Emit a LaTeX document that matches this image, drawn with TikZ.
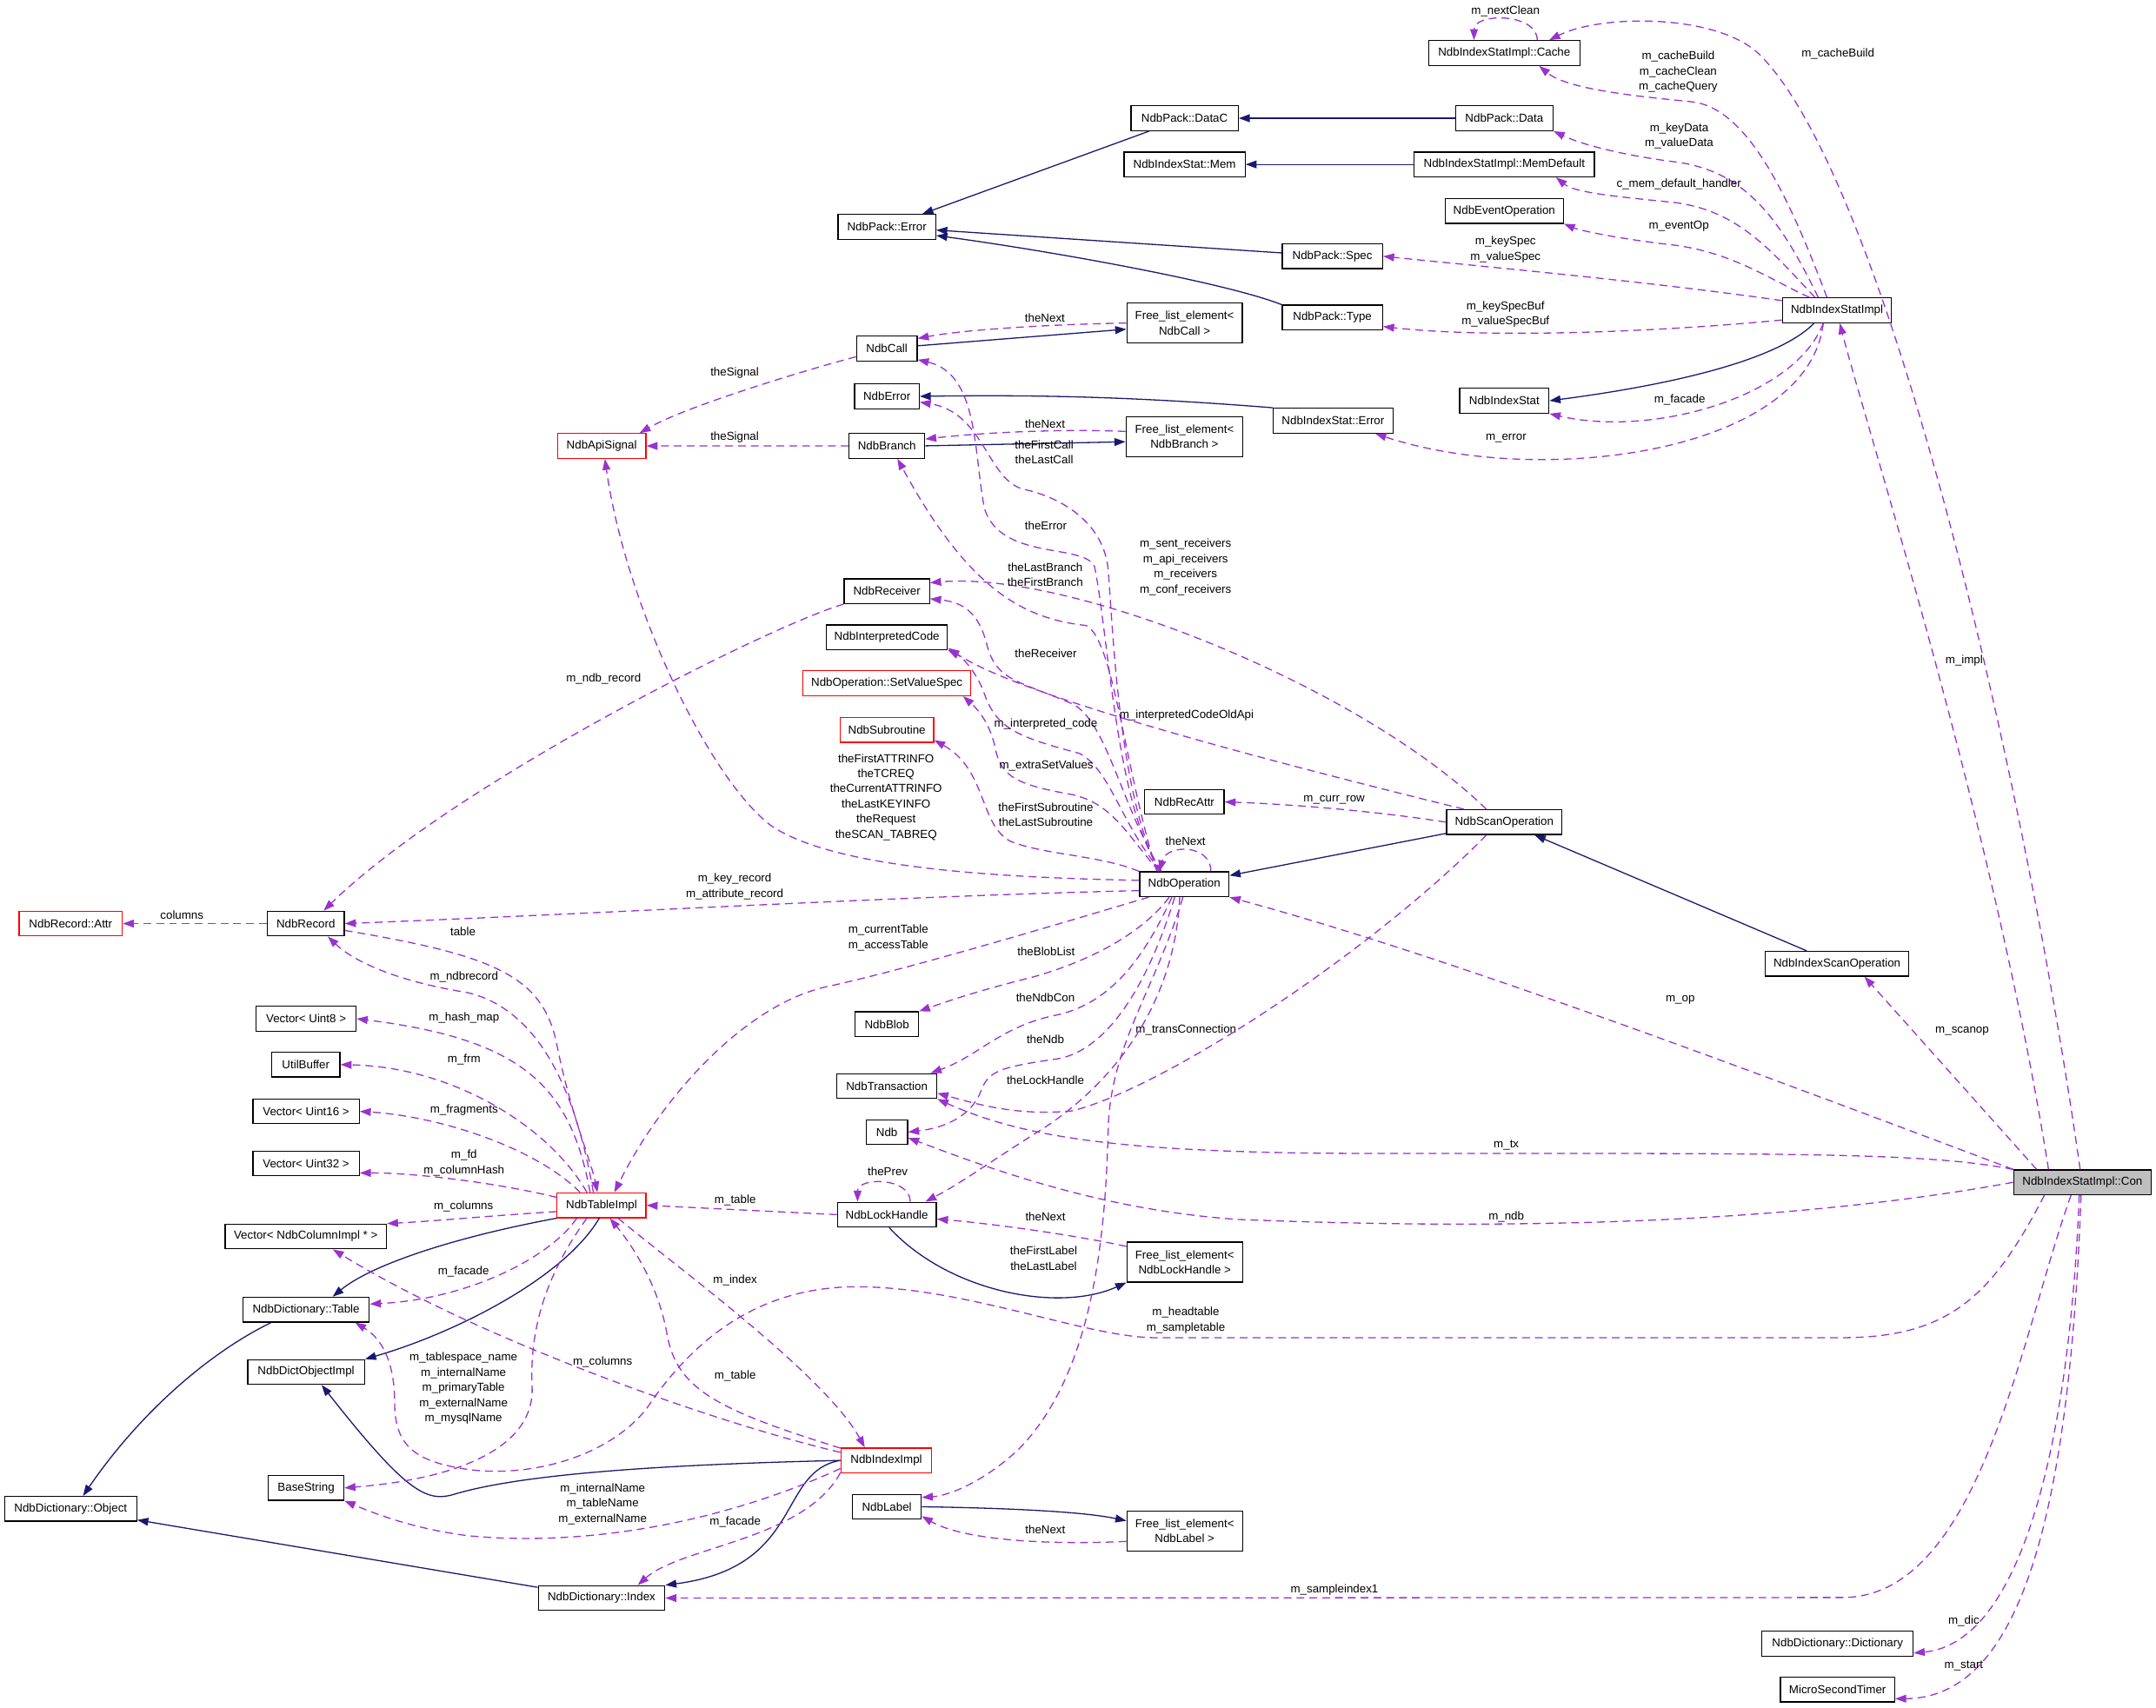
\documentclass[tikz,border=0pt]{standalone}
\usepackage{fontspec}
\setmainfont{Liberation Sans}
\usetikzlibrary{arrows.meta}
\definecolor{navyedge}{RGB}{25,25,112}
\definecolor{orchid}{RGB}{154,50,205}
\definecolor{hotred}{RGB}{255,0,0}
\definecolor{focusgray}{RGB}{191,191,191}
\newcommand\dgfont{\fontsize{7.2}{9.4}\selectfont}
\tikzset{cls/.style={draw=black,fill=white,line width=0.7pt,minimum height=5.4mm,inner sep=1pt,font=\dgfont,align=center},hot/.style={cls,draw=hotred},focus/.style={cls,fill=focusgray},twoline/.style={minimum height=8.7mm},inh/.style={-{Triangle[length=2.4mm,width=1.7mm]},line width=0.7pt,draw=navyedge},mbr/.style={-{Triangle[length=2.4mm,width=1.7mm]},line width=0.7pt,draw=orchid,dash pattern=on 1.7mm off 1.1mm},lbl/.style={font=\dgfont,inner sep=0pt,align=center}}

\begin{document}
\begin{tikzpicture}[x=0.3mm,y=-0.3mm]
\fill[white] (0,0) rectangle (1568,1242);
\useasboundingbox (0,0) rectangle (1568,1242);
\node[cls,minimum width=33mm] (cache) at (1094,38.6) {NdbIndexStatImpl::Cache};
\node[cls,minimum width=23.4mm] (datac) at (861.5,86) {NdbPack::DataC};
\node[cls,minimum width=21.3mm] (pdata) at (1094,86) {NdbPack::Data};
\node[cls,minimum width=26.4mm] (statmem) at (861.5,119.6) {NdbIndexStat::Mem};
\node[cls,minimum width=39.3mm] (memdef) at (1094,119.6) {NdbIndexStatImpl::MemDefault};
\node[cls,minimum width=25.8mm] (evop) at (1094,153.4) {NdbEventOperation};
\node[cls,minimum width=21.3mm] (packerr) at (645,165) {NdbPack::Error};
\node[cls,minimum width=21.9mm] (spec) at (969,186.4) {NdbPack::Spec};
\node[cls,minimum width=21.9mm] (ptype) at (969,231) {NdbPack::Type};
\node[cls,minimum width=23.8mm] (statimpl) at (1336,225.7) {NdbIndexStatImpl};
\node[cls,twoline,minimum width=25.2mm] (flcall) at (861.5,235) {Free\_list\_element<\\NdbCall >};
\node[cls,minimum width=13.2mm] (ndbcall) at (645,253.5) {NdbCall};
\node[cls,minimum width=14.1mm] (ndberr) at (645,288.3) {NdbError};
\node[cls,minimum width=19.5mm] (istat) at (1094,291.5) {NdbIndexStat};
\node[cls,minimum width=26.1mm] (staterr) at (969.5,306) {NdbIndexStat::Error};
\node[cls,twoline,minimum width=25.5mm] (flbranch) at (861.4,317.6) {Free\_list\_element<\\NdbBranch >};
\node[cls,minimum width=16.5mm] (branch) at (645,324.3) {NdbBranch};
\node[hot,minimum width=19.3mm] (apisig) at (437.6,324.4) {NdbApiSignal};
\node[cls,minimum width=18.6mm] (receiver) at (645,430) {NdbReceiver};
\node[cls,minimum width=26.4mm] (intcode) at (645,463.5) {NdbInterpretedCode};
\node[hot,minimum width=36.6mm] (setval) at (645,497) {NdbOperation::SetValueSpec};
\node[hot,minimum width=20.4mm] (subr) at (645,531) {NdbSubroutine};
\node[cls,minimum width=17.3mm] (recattr) at (861.4,583.3) {NdbRecAttr};
\node[cls,minimum width=25.2mm] (scanop) at (1094,598) {NdbScanOperation};
\node[cls,minimum width=19.5mm] (ndbop) at (861.3,643.2) {NdbOperation};
\node[hot,minimum width=22.5mm] (rattr) at (51.4,671.8) {NdbRecord::Attr};
\node[cls,minimum width=16.8mm] (record) at (222.4,671.8) {NdbRecord};
\node[cls,minimum width=31.2mm] (iscanop) at (1336,701) {NdbIndexScanOperation};
\node[cls,minimum width=21.8mm] (vu8) at (222.6,741) {Vector< Uint8 >};
\node[cls,minimum width=13.8mm] (blob) at (645,745) {NdbBlob};
\node[cls,minimum width=14.9mm] (ubuf) at (222.4,774.4) {UtilBuffer};
\node[cls,minimum width=21.8mm] (trans) at (645,790) {NdbTransaction};
\node[cls,minimum width=23.2mm] (vu16) at (222.6,808.4) {Vector< Uint16 >};
\node[cls,minimum width=9mm] (ndb) at (645,823.5) {Ndb};
\node[cls,minimum width=23.2mm] (vu32) at (222.6,846.3) {Vector< Uint32 >};
\node[focus,minimum width=30mm] (con) at (1514.5,860) {NdbIndexStatImpl::Con};
\node[hot,minimum width=19.4mm] (tblimpl) at (437.5,876.7) {NdbTableImpl};
\node[cls,minimum width=21.6mm] (lockh) at (645,883.5) {NdbLockHandle};
\node[cls,minimum width=35.2mm] (vcol) at (222.4,899.4) {Vector< NdbColumnImpl * >};
\node[cls,twoline,minimum width=25.2mm] (fllock) at (861.6,918) {Free\_list\_element<\\NdbLockHandle >};
\node[cls,minimum width=27.6mm] (dtable) at (222.6,952.6) {NdbDictionary::Table};
\node[cls,minimum width=25.5mm] (dobjimpl) at (222.6,998) {NdbDictObjectImpl};
\node[hot,minimum width=19.8mm] (idximpl) at (644.6,1062.3) {NdbIndexImpl};
\node[cls,minimum width=16.5mm] (bstr) at (222.6,1082.3) {BaseString};
\node[cls,minimum width=15mm] (label) at (645,1096) {NdbLabel};
\node[cls,minimum width=28.8mm] (dobj) at (51.4,1097.5) {NdbDictionary::Object};
\node[cls,twoline,minimum width=25.2mm] (fllabel) at (861.6,1113.7) {Free\_list\_element<\\NdbLabel >};
\node[cls,minimum width=27.6mm] (dindex) at (437.5,1162.4) {NdbDictionary::Index};
\node[cls,minimum width=33mm] (ddict) at (1336.4,1195.6) {NdbDictionary::Dictionary};
\node[cls,minimum width=24.9mm] (timer) at (1336.4,1229) {MicroSecondTimer};
\draw[inh] (pdata) -- (datac);
\draw[inh] (memdef) -- (statmem);
\draw[inh] (datac) -- (packerr);
\draw[inh] (spec) -- (packerr);
\draw[inh] (ptype.north west) .. controls (890,205) and (760,182) .. (packerr.-10);
\draw[inh] (ndbcall.5) -- (flcall.186);
\draw[inh] (staterr.north west) .. controls (830,289) and (760,287) .. (ndberr.east);
\draw[inh] ([xshift=-5mm]statimpl.south) .. controls (1290,265) and (1200,282) .. (istat.east);
\draw[inh] (branch.east) -- (flbranch.185);
\draw[inh] (scanop) -- (ndbop);
\draw[inh] (iscanop) -- (scanop);
\draw[inh] (lockh.-80) .. controls (690,940) and (770,955) .. (fllock.south west);
\draw[inh] (tblimpl.south west) .. controls (330,900) and (270,920) .. ([xshift=5.8mm]dtable.north);
\draw[inh] (tblimpl.-100) .. controls (410,930) and (330,970) .. (dobjimpl.north east);
\draw[inh] ([xshift=6.3mm]dtable.south west) .. controls (150,985) and (100,1030) .. ([xshift=2.7mm]dobj.north);
\draw[inh] (idximpl.west) .. controls (450,1066) and (370,1075) .. (330,1087) .. controls (310,1093) and (295,1085) .. ([xshift=3.4mm]dobjimpl.south);
\draw[inh] (idximpl.west) .. controls (565,1070) and (585,1140) .. (dindex.north east);
\draw[inh] (dindex) -- (dobj);
\draw[inh] (label.east) .. controls (740,1097) and (790,1100) .. (fllabel.170);
\draw[mbr] ([xshift=7.2mm]cache.north) .. controls +(0,-20) and +(0,-20) .. ([xshift=-6.6mm]cache.north);
\draw[mbr] ([xshift=-2.2mm]statimpl.north) .. controls (1300,140) and (1270,78) .. (1230,74) .. controls (1190,70) and (1140,65) .. ([xshift=7.6mm]cache.south);
\draw[mbr] ([xshift=-0.5mm]con.north) .. controls (1470,550) and (1370,130) .. (1280,40) .. controls (1250,10) and (1165,10) .. ([xshift=9.8mm]cache.north);
\draw[mbr] ([xshift=-4.1mm]statimpl.north) .. controls (1295,160) and (1270,125) .. (1220,118) .. controls (1180,113) and (1150,105) .. (pdata.south east);
\draw[mbr] ([xshift=-4.8mm]statimpl.north) .. controls (1290,185) and (1265,152) .. (1215,147) .. controls (1175,143) and (1145,140) .. ([xshift=11.3mm]memdef.south);
\draw[mbr] ([xshift=-6mm]statimpl.north) .. controls (1290,205) and (1260,183) .. (1215,178) .. controls (1180,174) and (1150,168) .. (evop.south east);
\draw[mbr] (statimpl.170) .. controls (1200,205) and (1100,196) .. (spec.east);
\draw[mbr] (statimpl.190) .. controls (1200,242) and (1080,246) .. (ptype.-10);
\draw[mbr] ([xshift=-3mm]statimpl.south) .. controls (1305,290) and (1200,318) .. (istat.south east);
\draw[mbr] ([xshift=-3mm]statimpl.south) .. controls (1315,330) and (1120,355) .. ([xshift=9.2mm]staterr.south);
\draw[mbr] ([xshift=-7.4mm]con.north) .. controls (1450,600) and (1360,320) .. ([xshift=0.6mm]statimpl.south);
\draw[mbr] (flcall.180) .. controls (760,236) and (700,240) .. (ndbcall.18);
\draw[mbr] (ndbcall.195) .. controls (590,268) and (500,295) .. ([xshift=-1.5mm]apisig.north east);
\draw[mbr] (branch.west) -- (apisig.east);
\draw[mbr] (flbranch.175) .. controls (780,312) and (720,314) .. (branch.10);
\draw[mbr] ([xshift=-5mm]ndbop.north) .. controls (812,590) and (806,460) .. (796,412) .. controls (788,395) and (728,408) .. (716,370) .. controls (708,330) and (712,272) .. (ndbcall.-20);
\draw[mbr] ([xshift=-5.5mm]ndbop.north) .. controls (815,580) and (810,470) .. (806,415) .. controls (803,380) and (772,362) .. (745,356) .. controls (718,350) and (716,300) .. (ndberr.-10);
\draw[mbr] ([xshift=-6mm]ndbop.north) .. controls (818,560) and (810,465) .. (790,455) .. controls (745,450) and (705,430) .. ([xshift=2.3mm]branch.south);
\draw[mbr] ([xshift=-5mm]ndbop.north) .. controls (815,585) and (805,525) .. (780,512) .. controls (740,495) and (725,495) .. (718,470) .. controls (712,445) and (700,438) .. (receiver.-10);
\draw[mbr] ([xshift=-5mm]ndbop.north) .. controls (815,600) and (808,560) .. (785,548) .. controls (740,536) and (725,530) .. (716,505) .. controls (711,490) and (700,478) .. (intcode.south east);
\draw[mbr] ([xshift=-5.5mm]ndbop.north) .. controls (820,608) and (810,585) .. (780,578) .. controls (740,571) and (728,565) .. (724,545) .. controls (720,525) and (710,515) .. ([xshift=-1.8mm]setval.south east);
\draw[mbr] (ndbop.north west) .. controls (800,622) and (760,622) .. (735,612) .. controls (712,600) and (718,560) .. (subr.-12);
\draw[mbr] ([xshift=5.8mm]ndbop.north) .. controls +(0,-20) and +(5,-20) .. ([xshift=-5.4mm]ndbop.north);
\draw[mbr] (ndbop.175) .. controls (700,638) and (600,628) .. (560,600) .. controls (515,565) and (455,440) .. ([xshift=0.7mm]apisig.south);
\draw[mbr] (ndbop.188) .. controls (650,652) and (450,664) .. (record.east);
\draw[mbr] (ndbop.-160) .. controls (760,675) and (660,705) .. (600,718) .. controls (540,732) and (480,800) .. ([xshift=2.8mm]tblimpl.north);
\draw[mbr] ([xshift=-3.3mm]ndbop.south) .. controls (830,680) and (790,700) .. (750,711) .. controls (710,721) and (690,728) .. (blob.north east);
\draw[mbr] ([xshift=-2.7mm]ndbop.south) .. controls (835,690) and (812,728) .. (770,738) .. controls (728,746) and (712,768) .. ([xshift=-1.5mm]trans.north east);
\draw[mbr] ([xshift=-2.1mm]ndbop.south) .. controls (840,700) and (812,762) .. (770,770) .. controls (730,776) and (720,778) .. (714,792) .. controls (708,810) and (690,820) .. (ndb.east);
\draw[mbr] ([xshift=-1mm]ndbop.south) .. controls (855,720) and (820,780) .. (760,820) .. controls (720,845) and (700,860) .. ([xshift=8.4mm]lockh.north);
\draw[mbr] ([xshift=-0.3mm]ndbop.south) .. controls (840,720) and (808,760) .. (806,820) .. controls (804,900) and (795,1000) .. (740,1055) .. controls (715,1078) and (690,1088) .. (label.15);
\draw[mbr] ([xshift=-3.9mm]scanop.north) .. controls (990,500) and (780,415) .. (receiver.11);
\draw[mbr] ([xshift=-8.8mm]scanop.north) .. controls (900,548) and (740,505) .. (intcode.-10);
\draw[mbr] (scanop.west) .. controls (1000,590) and (940,585) .. (recattr.east);
\draw[mbr] ([xshift=-3.9mm]scanop.south) .. controls (1000,690) and (850,790) .. (780,808) .. controls (740,812) and (710,803) .. (trans.-8);
\draw[mbr] (receiver.south west) .. controls (560,455) and (330,570) .. ([xshift=3.9mm]record.north);
\draw[mbr] (record.west) -- (rattr.east);
\draw[mbr] (record.-10) .. controls (360,695) and (395,710) .. (405,760) .. controls (415,810) and (430,845) .. ([xshift=-0.9mm]tblimpl.north);
\draw[mbr] ([xshift=-1.8mm]tblimpl.north) .. controls (420,800) and (395,735) .. (340,722) .. controls (290,714) and (258,700) .. ([xshift=4.8mm]record.south);
\draw[mbr] ([xshift=-2.5mm]tblimpl.north) .. controls (415,790) and (380,756) .. (vu8.east);
\draw[mbr] ([xshift=-3.2mm]tblimpl.north) .. controls (400,820) and (330,776) .. (ubuf.east);
\draw[mbr] ([xshift=-4.7mm]tblimpl.north) .. controls (390,835) and (320,812) .. (vu16.east);
\draw[mbr] (tblimpl.170) .. controls (360,860) and (300,853) .. (vu32.-10);
\draw[mbr] (tblimpl.-172) .. controls (360,884) and (320,888) .. (vcol.north east);
\draw[mbr] (lockh.west) -- (tblimpl.east);
\draw[mbr] (fllock.165) .. controls (780,898) and (720,890) .. (lockh.-5);
\draw[mbr] ([xshift=5.1mm]lockh.north) .. controls +(0,-18) and +(0,-18) .. ([xshift=-6.4mm]lockh.north);
\draw[mbr] (con.north west) .. controls (1400,838) and (1300,839) .. (1000,839) .. controls (820,839) and (745,828) .. (trans.south east);
\draw[mbr] (con.west) .. controls (1300,890) and (1100,895) .. (900,887) .. controls (800,880) and (720,850) .. (ndb.-15);
\draw[mbr] ([xshift=-10mm]con.north) -- ([xshift=6mm]iscanop.south);
\draw[mbr] (con.north west) .. controls (1250,770) and (1050,695) .. (ndbop.south east);
\draw[mbr] ([xshift=-0.7mm]con.south) .. controls (1505,1050) and (1470,1195) .. (ddict.-7);
\draw[mbr] ([xshift=-0.3mm]con.south) .. controls (1505,1100) and (1470,1235) .. (timer.-9);
\draw[mbr] ([xshift=-2.5mm]con.south) .. controls (1470,970) and (1440,1162) .. (1340,1162) -- (dindex.east);
\draw[mbr] ([xshift=-8.3mm]con.south) .. controls (1450,940) and (1420,973) .. (1340,973) -- (840,973) .. controls (790,973) and (700,935) .. (620,936) .. controls (560,937) and (510,965) .. (470,1025) .. controls (440,1062) and (380,1076) .. (335,1068) .. controls (300,1062) and (287,1050) .. (287,1020) .. controls (287,995) and (280,975) .. ([xshift=10.7mm]dtable.south);
\draw[mbr] ([xshift=-5.4mm]tblimpl.south) .. controls (400,915) and (340,945) .. (dtable.5);
\draw[mbr] ([xshift=-3.2mm]tblimpl.south) .. controls (395,930) and (385,970) .. (387,1010) .. controls (388,1050) and (340,1075) .. (bstr.east);
\draw[mbr] ([xshift=3.6mm]tblimpl.south) .. controls (490,920) and (600,1000) .. ([xshift=-4.7mm]idximpl.north);
\draw[mbr] (idximpl.165) .. controls (520,1025) and (492,1010) .. (485,970) .. controls (478,930) and (455,900) .. ([xshift=1.8mm]tblimpl.south);
\draw[mbr] (idximpl.170) .. controls (520,1035) and (350,975) .. ([xshift=5.9mm]vcol.south);
\draw[mbr] (idximpl.190) .. controls (520,1110) and (420,1125) .. (340,1117) .. controls (300,1112) and (270,1100) .. (bstr.south east);
\draw[mbr] (idximpl.195) .. controls (585,1120) and (495,1125) .. ([xshift=7.9mm]dindex.north);
\draw[mbr] (fllabel.190) .. controls (760,1124) and (700,1120) .. (label.-15);
\node[lbl] (lnextclean) at (1094.9,8) {m\_nextClean};
\node[lbl] (lcachebuild) at (1336.7,39.4) {m\_cacheBuild};
\node[lbl] (lcaches) at (1220.5,52.3) {m\_cacheBuild\\m\_cacheClean\\m\_cacheQuery};
\node[lbl] (lkeydata) at (1221.2,98.8) {m\_keyData\\m\_valueData};
\node[lbl] (lmemhandler) at (1221,134.3) {c\_mem\_default\_handler};
\node[lbl] (leventop) at (1221,164.8) {m\_eventOp};
\node[lbl] (lkeyspec) at (1094.9,181.5) {m\_keySpec\\m\_valueSpec};
\node[lbl] (lkeyspecbuf) at (1094.9,228.5) {m\_keySpecBuf\\m\_valueSpecBuf};
\node[lbl] (lcallnext) at (759.9,231.4) {theNext};
\node[lbl] (lcallsig) at (534.3,271.2) {theSignal};
\node[lbl] (lfacade) at (1221.6,290.7) {m\_facade};
\node[lbl] (lbranchnext) at (760,308.2) {theNext};
\node[lbl] (lbranchsig) at (534.3,318.3) {theSignal};
\node[lbl] (lerror) at (1095.3,318.5) {m\_error};
\node[lbl] (lfirstcall) at (759.4,328.8) {theFirstCall\\theLastCall};
\node[lbl] (loperror) at (760.6,382.3) {theError};
\node[lbl] (lreceivers) at (862.2,412.6) {m\_sent\_receivers\\m\_api\_receivers\\m\_receivers\\m\_conf\_receivers};
\node[lbl] (lbranches) at (760.2,418.2) {theLastBranch\\theFirstBranch};
\node[lbl] (lreceiver) at (760.6,475.3) {theReceiver};
\node[lbl] (limpl) at (1428.5,480.7) {m\_impl};
\node[lbl] (lndbrecord) at (439,493.5) {m\_ndb\_record};
\node[lbl] (loldapi) at (863,520.3) {m\_interpretedCodeOldApi};
\node[lbl] (lintcode) at (760.6,526.5) {m\_interpreted\_code};
\node[lbl] (lextra) at (761,556.7) {m\_extraSetValues};
\node[lbl] (lsignals) at (644.4,579.8) {theFirstATTRINFO\\theTCREQ\\theCurrentATTRINFO\\theLastKEYINFO\\theRequest\\theSCAN\_TABREQ};
\node[lbl] (lcurrow) at (970.3,582.1) {m\_curr\_row};
\node[lbl] (lsubr) at (760.6,592.7) {theFirstSubroutine\\theLastSubroutine};
\node[lbl] (lopnext) at (862.2,612) {theNext};
\node[lbl] (lkeyrec) at (534.3,645) {m\_key\_record\\m\_attribute\_record};
\node[lbl] (lcolumns) at (132.3,665.6) {columns};
\node[lbl] (ltable) at (336.7,677.6) {table};
\node[lbl] (lcurtable) at (646,682.2) {m\_currentTable\\m\_accessTable};
\node[lbl] (lbloblist) at (760.8,691.9) {theBlobList};
\node[lbl] (lndbrec2) at (337.5,710.7) {m\_ndbrecord};
\node[lbl] (lndbcon) at (760.3,725.5) {theNdbCon};
\node[lbl] (lop) at (1222,727) {m\_op};
\node[lbl] (lhashmap) at (337.5,740.4) {m\_hash\_map};
\node[lbl] (ltranscon) at (862.6,748.9) {m\_transConnection};
\node[lbl] (lscanop) at (1427,750) {m\_scanop};
\node[lbl] (lndb) at (760.3,755.8) {theNdb};
\node[lbl] (lfrm) at (337.5,770.7) {m\_frm};
\node[lbl] (llockh) at (760.3,786) {theLockHandle};
\node[lbl] (lfrag) at (337.5,807.2) {m\_fragments};
\node[lbl] (ltx) at (1095.5,832.7) {m\_tx};
\node[lbl] (lfd) at (337.5,845.9) {m\_fd\\m\_columnHash};
\node[lbl] (lprev) at (645.6,852.4) {thePrev};
\node[lbl] (llocktable) at (534.7,873) {m\_table};
\node[lbl] (lcols) at (337.1,877.4) {m\_columns};
\node[lbl] (llocknext) at (760.3,884.7) {theNext};
\node[lbl] (lmndb) at (1095.5,885.2) {m\_ndb};
\node[lbl] (llabels) at (759,915.4) {theFirstLabel\\theLastLabel};
\node[lbl] (ltblfacade) at (337.1,924.8) {m\_facade};
\node[lbl] (lindex) at (534.7,931.2) {m\_index};
\node[lbl] (lheadtable) at (862.4,960.5) {m\_headtable\\m\_sampletable};
\node[lbl] (lnames) at (337.1,1009.8) {m\_tablespace\_name\\m\_internalName\\m\_primaryTable\\m\_externalName\\m\_mysqlName};
\node[lbl] (lidxcols) at (438.3,990.6) {m\_columns};
\node[lbl] (lidxtable) at (534.7,1000.7) {m\_table};
\node[lbl] (lidxnames) at (438.3,1094) {m\_internalName\\m\_tableName\\m\_externalName};
\node[lbl] (lidxfacade) at (534.7,1107.1) {m\_facade};
\node[lbl] (llabelnext) at (760.2,1112.6) {theNext};
\node[lbl] (lsampleidx) at (970.5,1156.5) {m\_sampleindex1};
\node[lbl] (ldic) at (1428.2,1179.1) {m\_dic};
\node[lbl] (lstart) at (1428.2,1211.8) {m\_start};
\end{tikzpicture}
\end{document}
